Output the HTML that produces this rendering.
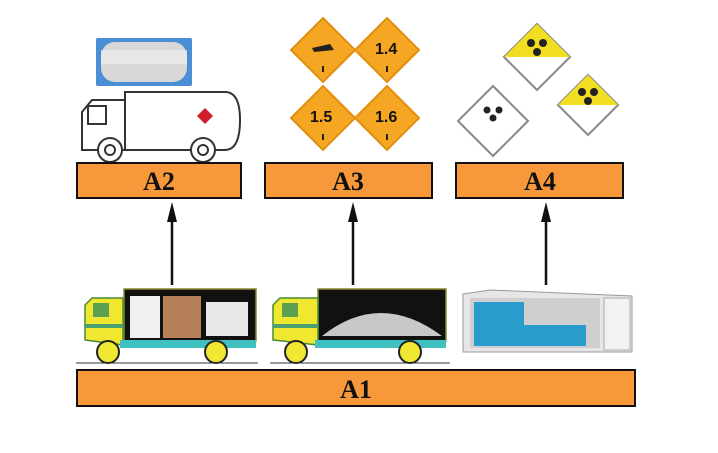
<!DOCTYPE html>
<html><head><meta charset="utf-8"><style>
html,body{margin:0;padding:0;background:#fff;}
svg{display:block;}
text{font-family:"Liberation Serif",serif;font-weight:bold;}
</style></head><body>
<svg width="718" height="453" viewBox="0 0 718 453" xmlns="http://www.w3.org/2000/svg">
<!-- A2 pictures: tank container -->
<rect x="96" y="38" width="96" height="48" fill="#4a8ed6" rx="2"/>
<rect x="101" y="42" width="86" height="40" fill="#d8d8d8" rx="14"/>
<rect x="101" y="50" width="86" height="14" fill="#eeeeee" opacity="0.7"/>
<g fill="#fff" stroke="#333" stroke-width="2">
<path d="M82 150 L82 112 L92 100 L125 100 L125 150 Z"/>
<path d="M125 92 L225 92 Q240 92 240 120 Q240 150 225 150 L125 150 Z"/>
<rect x="88" y="106" width="18" height="18"/>
<circle cx="110" cy="150" r="12"/>
<circle cx="203" cy="150" r="12"/>
<circle cx="110" cy="150" r="5"/>
<circle cx="203" cy="150" r="5"/>
</g>
<path d="M205 108 L213 116 L205 124 L197 116 Z" fill="#d0202a"/>
<!-- A3 diamonds -->
<g fill="#f5a623" stroke="#e09010" stroke-width="2">
<path d="M323 18 L355 50 L323 82 L291 50 Z"/>
<path d="M387 18 L419 50 L387 82 L355 50 Z"/>
<path d="M323 86 L355 118 L323 150 L291 118 Z"/>
<path d="M387 86 L419 118 L387 150 L355 118 Z"/>
</g>
<path d="M312 48 L330 44 L334 50 L314 52 Z" fill="#222"/>
<g font-size="16" fill="#111">
<text x="375" y="54" style="font-family:'Liberation Sans',sans-serif">1.4</text>
<text x="310" y="122" style="font-family:'Liberation Sans',sans-serif">1.5</text>
<text x="375" y="122" style="font-family:'Liberation Sans',sans-serif">1.6</text>
</g>
<g fill="#222"><rect x="322" y="66" width="2" height="6"/><rect x="386" y="66" width="2" height="6"/><rect x="322" y="134" width="2" height="6"/><rect x="386" y="134" width="2" height="6"/></g>
<!-- A4 radioactive -->
<g stroke="#888" stroke-width="2">
<path d="M493 86 L528 121 L493 156 L458 121 Z" fill="#fff"/>
<path d="M537 24 L570 57 L537 90 L504 57 Z" fill="#fff"/>
<path d="M537 24 L570 57 L504 57 Z" fill="#f2dd20" stroke="none"/>
<path d="M588 75 L618 105 L588 135 L558 105 Z" fill="#fff"/>
<path d="M588 75 L618 105 L558 105 Z" fill="#f2dd20" stroke="none"/>
</g>
<g fill="#222">
<circle cx="531" cy="43" r="4"/><circle cx="543" cy="43" r="4"/><circle cx="537" cy="52" r="4"/>
<circle cx="582" cy="92" r="4"/><circle cx="594" cy="92" r="4"/><circle cx="588" cy="101" r="4"/>
<circle cx="487" cy="110" r="3.5"/><circle cx="499" cy="110" r="3.5"/><circle cx="493" cy="118" r="3.5"/>
</g>
<!-- boxes -->
<g fill="#f7983a" stroke="#111" stroke-width="2">
<rect x="77" y="163" width="164" height="35"/>
<rect x="265" y="163" width="167" height="35"/>
<rect x="456" y="163" width="167" height="35"/>
<rect x="77" y="370" width="558" height="36"/>
</g>
<g font-size="26" text-anchor="middle" fill="#111">
<text x="159" y="190">A2</text>
<text x="348" y="190">A3</text>
<text x="540" y="190">A4</text>
<text x="356" y="398">A1</text>
</g>
<!-- arrows -->
<g stroke="#111" stroke-width="2.5">
<line x1="172" y1="285" x2="172" y2="215"/>
<line x1="353" y1="285" x2="353" y2="215"/>
<line x1="546" y1="285" x2="546" y2="215"/>
</g>
<g fill="#111">
<path d="M172 202 L167 222 L177 222 Z"/>
<path d="M353 202 L348 222 L358 222 Z"/>
<path d="M546 202 L541 222 L551 222 Z"/>
</g>
<!-- truck 1 -->
<rect x="124" y="289" width="132" height="52" fill="#111" stroke="#8a8a30" stroke-width="1.5"/>
<rect x="130" y="296" width="30" height="42" fill="#f0f0f0"/>
<rect x="163" y="296" width="38" height="42" fill="#b5805a"/>
<rect x="206" y="302" width="42" height="34" fill="#e8e8e8"/>
<path d="M85 340 L85 305 L92 298 L123 298 L123 345 Z" fill="#f0e830" stroke="#4a8a30" stroke-width="1.5"/>
<rect x="93" y="303" width="16" height="14" fill="#5aa050"/>
<rect x="85" y="324" width="38" height="4" fill="#4aa070"/>
<rect x="120" y="340" width="136" height="8" fill="#40c0c0"/>
<circle cx="108" cy="352" r="11" fill="#f0e830" stroke="#222" stroke-width="2"/>
<circle cx="216" cy="352" r="11" fill="#f0e830" stroke="#222" stroke-width="2"/>
<line x1="76" y1="363" x2="258" y2="363" stroke="#333" stroke-width="1"/>
<!-- truck 2 -->
<rect x="318" y="289" width="128" height="52" fill="#111" stroke="#8a8a30" stroke-width="1.5"/>
<path d="M322 336 Q380 290 442 336 Z" fill="#c8c8c8"/>
<path d="M273 340 L273 305 L280 298 L318 298 L318 345 Z" fill="#f0e830" stroke="#4a8a30" stroke-width="1.5"/>
<rect x="282" y="303" width="16" height="14" fill="#5aa050"/>
<rect x="273" y="324" width="45" height="4" fill="#4aa070"/>
<rect x="315" y="340" width="131" height="8" fill="#40c0c0"/>
<circle cx="296" cy="352" r="11" fill="#f0e830" stroke="#222" stroke-width="2"/>
<circle cx="410" cy="352" r="11" fill="#f0e830" stroke="#222" stroke-width="2"/>
<line x1="270" y1="363" x2="450" y2="363" stroke="#333" stroke-width="1"/>
<!-- container -->
<path d="M463 294 L490 290 L632 296 L632 352 L463 352 Z" fill="#e6e6e6" stroke="#999" stroke-width="1"/>
<rect x="470" y="298" width="130" height="50" fill="#cfcfcf"/>
<rect x="474" y="302" width="50" height="44" fill="#2a9ccc"/>
<rect x="524" y="325" width="62" height="21" fill="#2a9ccc"/>
<rect x="604" y="298" width="26" height="52" fill="#f2f2f2" stroke="#aaa"/>
</svg>
</body></html>
